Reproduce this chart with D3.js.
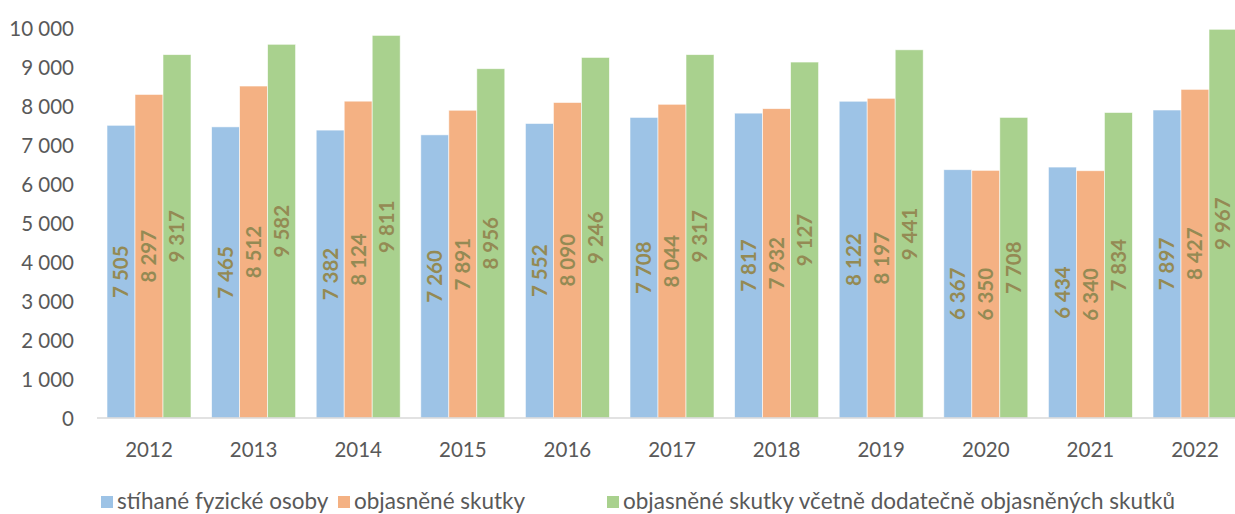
<!DOCTYPE html>
<html>
<head>
<meta charset="utf-8">
<script src="https://cdn.jsdelivr.net/npm/d3@7"></script>
<style>
  html, body { margin: 0; padding: 0; background: #fff; }
  svg { display: block; font-family: Lato, "Open Sans", sans-serif; }
</style>
</head>
<body>
<svg id="chart" width="1235" height="514"></svg>
<script>
// Years on the category axis
const years = ["2012","2013","2014","2015","2016","2017","2018","2019","2020","2021","2022"];

// Series names (legend)
const seriesNames = [
  "stíhané fyzické osoby",
  "objasněné skutky",
  "objasněné skutky včetně dodatečně objasněných skutků"
];

// Series values, one per year
const stihaneOsoby   = [7505, 7465, 7382, 7260, 7552, 7708, 7817, 8122, 6367, 6434, 7897];
const objasneneSkutky = [8297, 8512, 8124, 7891, 8090, 8044, 7932, 8197, 6350, 6340, 8427];
const vcetneDodatecne = [9317, 9582, 9811, 8956, 9246, 9317, 9127, 9441, 7708, 7834, 9967];

// Y axis ticks
const yTicks = [0, 1000, 2000, 3000, 4000, 5000, 6000, 7000, 8000, 9000, 10000];

const seriesValues = [stihaneOsoby, objasneneSkutky, vcetneDodatecne];
const colors = ["#9DC3E6", "#F4B183", "#A9D18E"];
const labelColor = "#948A54";
const textColor = "#595959";

const svg = d3.select("#chart");

const y = d3.scaleLinear().domain([0, 10000]).range([418, 28]);

const x0 = d3.scaleBand()
  .domain(years)
  .range([96.7, 1247.3])
  .paddingInner(0.197)
  .paddingOuter(0.0985);

const x1 = d3.scaleBand()
  .domain(d3.range(seriesValues.length))
  .range([0, x0.bandwidth()])
  .padding(0);

// format with a space as thousands separator
const fmt = v => d3.format(",")(v).replace(/,/g, " ");

// Y axis labels (no axis line, no ticks)
const yAxis = d3.axisLeft(y).tickValues(yTicks).tickSize(0).tickPadding(0).tickFormat(fmt);
const yg = svg.append("g").attr("transform", "translate(74,0)").call(yAxis);
yg.select(".domain").remove();
yg.selectAll("text")
  .attr("fill", textColor)
  .style("font-size", "20.5px")
  .style("font-family", "Lato, sans-serif")
  .attr("dy", "0.35em");

// Bars and their value labels
const groups = svg.append("g").selectAll("g")
  .data(years)
  .join("g")
  .attr("transform", d => `translate(${x0(d)},0)`);

groups.selectAll("rect")
  .data((d, i) => seriesValues.map((s, k) => ({ k, v: s[i] })))
  .join("rect")
  .attr("x", d => x1(d.k))
  .attr("y", d => y(d.v))
  .attr("width", x1.bandwidth())
  .attr("height", d => y(0) - y(d.v))
  .attr("fill", d => colors[d.k])
  .attr("stroke", "#ffffff")
  .attr("stroke-opacity", 0.7)
  .attr("stroke-width", 0.8);

groups.selectAll("text")
  .data((d, i) => seriesValues.map((s, k) => ({ k, v: s[i] })))
  .join("text")
  .attr("transform", d => `translate(${x1(d.k) + x1.bandwidth() / 2},${(y(d.v) + y(0)) / 2}) rotate(-90)`)
  .attr("text-anchor", "middle")
  .attr("dy", "0.36em")
  .attr("fill", labelColor)
  .style("font-size", "20.5px")
  .style("font-weight", "bold")
  .text(d => fmt(d.v));

// Category axis baseline
svg.append("line")
  .attr("x1", 97).attr("x2", 1235)
  .attr("y1", y(0)).attr("y2", y(0))
  .attr("stroke", "#D9D9D9")
  .attr("stroke-width", 1.5);

// Year labels
const xAxis = d3.axisBottom(x0).tickSize(0).tickPadding(0);
const xg = svg.append("g").attr("transform", "translate(0,457)").call(xAxis);
xg.select(".domain").remove();
xg.selectAll("text")
  .attr("fill", textColor)
  .attr("dy", 0)
  .style("font-size", "20.5px")
  .style("font-family", "Lato, sans-serif");

// Legend
const legendX = [101, 338, 607];
const legend = svg.append("g").selectAll("g")
  .data(seriesNames)
  .join("g")
  .attr("transform", (d, i) => `translate(${legendX[i]},0)`);
legend.append("rect")
  .attr("x", 0).attr("y", 496)
  .attr("width", 12).attr("height", 12)
  .attr("fill", (d, i) => colors[i]);
legend.append("text")
  .attr("x", 16).attr("y", 509)
  .attr("fill", textColor)
  .style("font-size", "22.5px")
  .text(d => d);
</script>
</body>
</html>
